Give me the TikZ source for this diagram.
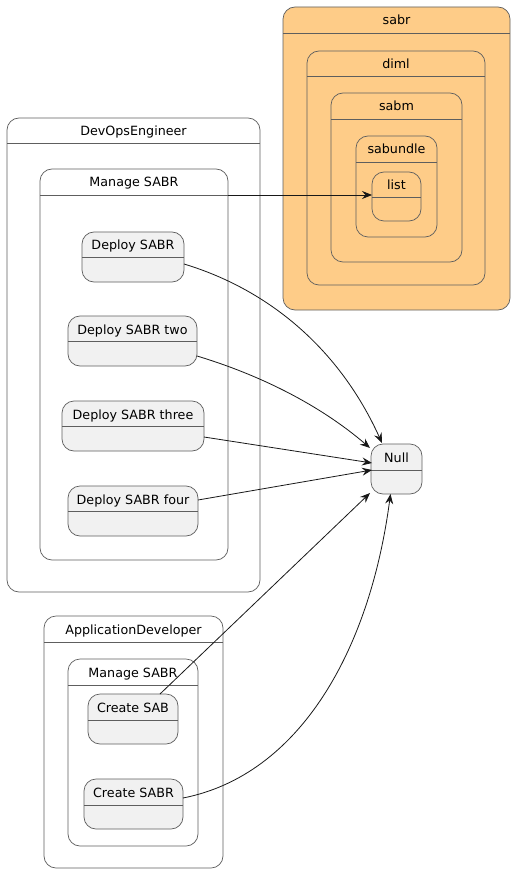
\documentclass[tikz,border=0pt]{standalone}
\usepackage{fontspec}
\setmainfont{DejaVu Sans}
\usetikzlibrary{arrows.meta}
\definecolor{c18}{HTML}{181818}
\definecolor{bord}{HTML}{5E5E5E}
\definecolor{stfill}{HTML}{F1F1F1}
\definecolor{sabrfill}{HTML}{FECC88}
\newcommand\lbfont{\fontsize{12.7}{15}\selectfont}
\tikzset{
  box/.style={draw=bord, line width=0.7pt, rounded corners=12pt, inner sep=0pt, outer sep=0pt},
  hline/.style={draw=bord, line width=0.7pt},
  lbl/.style={anchor=base, inner sep=0pt, font=\lbfont, text=black},
  edge/.style={draw=c18, line width=0.8pt, -{Stealth[length=10pt,width=8pt,inset=3.5pt]}}
}
% name, x1, y1, x2, y2, header y, label, fill
\newcommand\mkbox[8]{%
  \pgfmathsetmacro\bw{#4-#2}%
  \pgfmathsetmacro\bh{#5-#3}%
  \node[box, fill=#8, minimum width=\bw pt, minimum height=\bh pt] (#1) at ({(#2+#4)/2},{(#3+#5)/2}) {};
  \coordinate (#1h) at (0,#6);
  \draw[hline] (#1.west |- #1h) -- (#1.east |- #1h);
  \node[lbl] (#1t) at ({(#2+#4)/2},{#3+18}) {#7};
}
\begin{document}
\begin{tikzpicture}[x=1pt,y=-1pt]
\useasboundingbox (0,0) rectangle (515,874);
% sabr stack
\mkbox{sabr}{283}{7}{510}{310}{33}{sabr}{sabrfill}
\mkbox{diml}{307}{51}{485}{285}{76}{diml}{sabrfill}
\mkbox{sabm}{331}{93}{462}{262}{119}{sabm}{sabrfill}
\mkbox{sabundle}{356}{136}{437}{237}{162}{sabundle}{sabrfill}
\mkbox{list}{372}{172}{421}{221}{197}{list}{sabrfill}
% DevOps
\mkbox{dev}{7}{118}{260}{592}{143}{DevOpsEngineer}{white}
\mkbox{msa}{40}{169}{228}{560}{195}{Manage SABR}{white}
\mkbox{dsa}{82}{232}{184}{282}{257}{Deploy SABR}{stfill}
\mkbox{dsb}{68}{316}{197}{366}{341}{Deploy SABR two}{stfill}
\mkbox{dsc}{62}{401}{204}{451}{426}{Deploy SABR three}{stfill}
\mkbox{dsd}{68}{486}{198}{536}{511}{Deploy SABR four}{stfill}
% Null
\mkbox{null}{371}{444}{422}{494}{470}{Null}{stfill}
% AppDev
\mkbox{app}{44}{616}{223}{868}{642}{ApplicationDeveloper}{white}
\mkbox{msb}{68}{659}{198}{846}{685}{Manage SABR}{white}
\mkbox{csa}{88}{694}{178}{744}{720}{Create SAB}{stfill}
\mkbox{csb}{84}{779}{183}{829}{805}{Create SABR}{stfill}
% edges
\draw[edge] (msa.east |- msah) -- (list.west |- msah);
\draw[edge] ([yshift=-7pt]dsa.east) .. controls (270,290) and (340,350) .. ([shift={(11pt,1pt)}]null.north west);
\draw[edge] ([yshift=-15pt]dsb.east) .. controls (260,375) and (320,405) .. ([shift={(-1pt,-4pt)}]null.north west);
\draw[edge] ([yshift=-11pt]dsc.east) -- ([shift={(1pt,6pt)}]null.west);
\draw[edge] ([yshift=11pt]dsd.east) -- ([shift={(1pt,-1pt)}]null.west);
\draw[edge] ([xshift=27pt]csa.north) -- ([shift={(-1pt,1pt)}]null.south west);
\draw[edge] ([yshift=6pt]csb.east) .. controls (300,775) and (370,650) .. ([xshift=-6pt]null.south);
\end{tikzpicture}
\end{document}
